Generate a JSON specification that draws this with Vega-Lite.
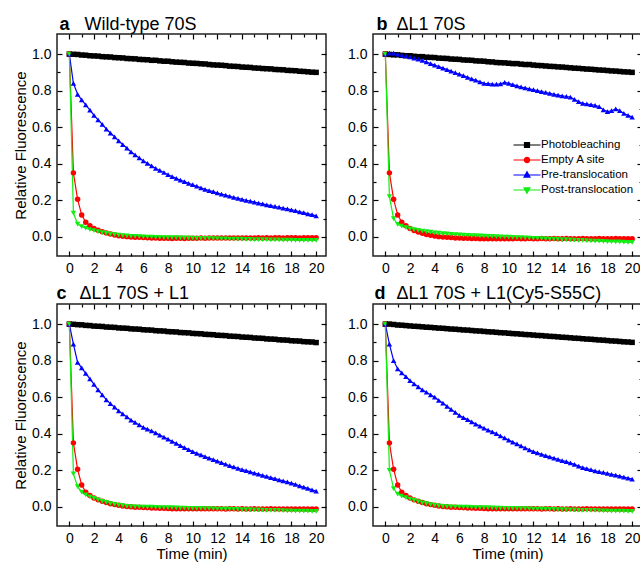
{
"$schema":"https://vega.github.io/schema/vega-lite/v6.json",
"padding":{"left":12,"top":14,"right":0,"bottom":0},
"background":"white",
"config":{
 "font":"Liberation Sans",
 "view":{"stroke":"#222","strokeWidth":1.5},
 "axis":{"domain":false,"grid":false,"tickColor":"#000","tickWidth":1.2,"labelColor":"#000","labelFont":"Liberation Sans","labelFontSize":14,"titleFont":"Liberation Sans","titleFontSize":15,"titleColor":"#000","titleFontWeight":"normal"}
},
"data":{"values":[
{"p":"a","t":0,"P":1,"E":1,"R":1,"O":1},
{"p":"a","t":0.33,"P":0.999,"E":0.35,"R":0.84,"O":0.13},
{"p":"a","t":0.67,"P":0.998,"E":0.205,"R":0.78,"O":0.07},
{"p":"a","t":1,"P":0.995,"E":0.12,"R":0.75,"O":0.056},
{"p":"a","t":1.33,"P":0.994,"E":0.08,"R":0.722,"O":0.047},
{"p":"a","t":1.67,"P":0.991,"E":0.06,"R":0.693,"O":0.04},
{"p":"a","t":2,"P":0.99,"E":0.046,"R":0.665,"O":0.034},
{"p":"a","t":2.33,"P":0.989,"E":0.036,"R":0.64,"O":0.028},
{"p":"a","t":2.67,"P":0.986,"E":0.028,"R":0.615,"O":0.023},
{"p":"a","t":3,"P":0.985,"E":0.021,"R":0.59,"O":0.019},
{"p":"a","t":3.33,"P":0.984,"E":0.015,"R":0.568,"O":0.015},
{"p":"a","t":3.67,"P":0.981,"E":0.01,"R":0.547,"O":0.012},
{"p":"a","t":4,"P":0.98,"E":0.006,"R":0.525,"O":0.009},
{"p":"a","t":4.33,"P":0.979,"E":0.003,"R":0.505,"O":0.007},
{"p":"a","t":4.67,"P":0.976,"E":0.001,"R":0.485,"O":0.005},
{"p":"a","t":5,"P":0.975,"E":-0.001,"R":0.465,"O":0.003},
{"p":"a","t":5.33,"P":0.974,"E":-0.002,"R":0.448,"O":0.002},
{"p":"a","t":5.67,"P":0.971,"E":-0.003,"R":0.432,"O":0.001},
{"p":"a","t":6,"P":0.97,"E":-0.004,"R":0.415,"O":0},
{"p":"a","t":6.33,"P":0.969,"E":-0.005,"R":0.402,"O":-0.001},
{"p":"a","t":6.67,"P":0.966,"E":-0.006,"R":0.388,"O":-0.002},
{"p":"a","t":7,"P":0.966,"E":-0.007,"R":0.375,"O":-0.003},
{"p":"a","t":7.33,"P":0.963,"E":-0.008,"R":0.363,"O":-0.003},
{"p":"a","t":7.67,"P":0.961,"E":-0.008,"R":0.352,"O":-0.004},
{"p":"a","t":8,"P":0.961,"E":-0.008,"R":0.34,"O":-0.004},
{"p":"a","t":8.33,"P":0.958,"E":-0.009,"R":0.33,"O":-0.005},
{"p":"a","t":8.67,"P":0.956,"E":-0.008,"R":0.32,"O":-0.005},
{"p":"a","t":9,"P":0.955,"E":-0.008,"R":0.31,"O":-0.006},
{"p":"a","t":9.33,"P":0.954,"E":-0.009,"R":0.302,"O":-0.006},
{"p":"a","t":9.67,"P":0.951,"E":-0.008,"R":0.293,"O":-0.007},
{"p":"a","t":10,"P":0.95,"E":-0.008,"R":0.285,"O":-0.007},
{"p":"a","t":10.33,"P":0.949,"E":-0.008,"R":0.277,"O":-0.008},
{"p":"a","t":10.67,"P":0.947,"E":-0.007,"R":0.268,"O":-0.008},
{"p":"a","t":11,"P":0.946,"E":-0.008,"R":0.26,"O":-0.009},
{"p":"a","t":11.33,"P":0.943,"E":-0.007,"R":0.253,"O":-0.009},
{"p":"a","t":11.67,"P":0.941,"E":-0.007,"R":0.247,"O":-0.01},
{"p":"a","t":12,"P":0.94,"E":-0.007,"R":0.24,"O":-0.01},
{"p":"a","t":12.33,"P":0.939,"E":-0.007,"R":0.234,"O":-0.011},
{"p":"a","t":12.67,"P":0.937,"E":-0.006,"R":0.228,"O":-0.011},
{"p":"a","t":13,"P":0.934,"E":-0.007,"R":0.222,"O":-0.012},
{"p":"a","t":13.33,"P":0.933,"E":-0.006,"R":0.216,"O":-0.012},
{"p":"a","t":13.67,"P":0.932,"E":-0.006,"R":0.211,"O":-0.013},
{"p":"a","t":14,"P":0.929,"E":-0.006,"R":0.205,"O":-0.013},
{"p":"a","t":14.33,"P":0.928,"E":-0.007,"R":0.2,"O":-0.014},
{"p":"a","t":14.67,"P":0.927,"E":-0.006,"R":0.195,"O":-0.014},
{"p":"a","t":15,"P":0.924,"E":-0.006,"R":0.19,"O":-0.015},
{"p":"a","t":15.33,"P":0.923,"E":-0.005,"R":0.185,"O":-0.015},
{"p":"a","t":15.67,"P":0.921,"E":-0.006,"R":0.18,"O":-0.016},
{"p":"a","t":16,"P":0.92,"E":-0.005,"R":0.175,"O":-0.016},
{"p":"a","t":16.33,"P":0.919,"E":-0.006,"R":0.171,"O":-0.017},
{"p":"a","t":16.67,"P":0.916,"E":-0.005,"R":0.166,"O":-0.017},
{"p":"a","t":17,"P":0.915,"E":-0.005,"R":0.162,"O":-0.017},
{"p":"a","t":17.33,"P":0.914,"E":-0.006,"R":0.157,"O":-0.018},
{"p":"a","t":17.67,"P":0.911,"E":-0.005,"R":0.153,"O":-0.018},
{"p":"a","t":18,"P":0.91,"E":-0.005,"R":0.148,"O":-0.018},
{"p":"a","t":18.33,"P":0.909,"E":-0.005,"R":0.143,"O":-0.019},
{"p":"a","t":18.67,"P":0.906,"E":-0.006,"R":0.137,"O":-0.019},
{"p":"a","t":19,"P":0.905,"E":-0.005,"R":0.132,"O":-0.019},
{"p":"a","t":19.33,"P":0.903,"E":-0.005,"R":0.126,"O":-0.02},
{"p":"a","t":19.67,"P":0.901,"E":-0.005,"R":0.121,"O":-0.02},
{"p":"a","t":20,"P":0.9,"E":-0.005,"R":0.115,"O":-0.02},
{"p":"b","t":0,"P":1,"E":1,"R":1,"O":1},
{"p":"b","t":0.33,"P":0.998,"E":0.35,"R":1.005,"O":0.22},
{"p":"b","t":0.67,"P":0.996,"E":0.205,"R":1.005,"O":0.1},
{"p":"b","t":1,"P":0.996,"E":0.12,"R":1,"O":0.068},
{"p":"b","t":1.33,"P":0.993,"E":0.08,"R":0.995,"O":0.058},
{"p":"b","t":1.67,"P":0.991,"E":0.06,"R":0.99,"O":0.05},
{"p":"b","t":2,"P":0.991,"E":0.045,"R":0.985,"O":0.044},
{"p":"b","t":2.33,"P":0.988,"E":0.035,"R":0.978,"O":0.039},
{"p":"b","t":2.67,"P":0.986,"E":0.026,"R":0.972,"O":0.035},
{"p":"b","t":3,"P":0.986,"E":0.019,"R":0.965,"O":0.031},
{"p":"b","t":3.33,"P":0.983,"E":0.013,"R":0.957,"O":0.028},
{"p":"b","t":3.67,"P":0.982,"E":0.008,"R":0.948,"O":0.025},
{"p":"b","t":4,"P":0.981,"E":0.004,"R":0.94,"O":0.022},
{"p":"b","t":4.33,"P":0.978,"E":0.001,"R":0.932,"O":0.02},
{"p":"b","t":4.67,"P":0.977,"E":-0.001,"R":0.923,"O":0.018},
{"p":"b","t":5,"P":0.976,"E":-0.003,"R":0.915,"O":0.016},
{"p":"b","t":5.33,"P":0.973,"E":-0.004,"R":0.907,"O":0.014},
{"p":"b","t":5.67,"P":0.972,"E":-0.006,"R":0.898,"O":0.012},
{"p":"b","t":6,"P":0.971,"E":-0.007,"R":0.89,"O":0.01},
{"p":"b","t":6.33,"P":0.968,"E":-0.008,"R":0.882,"O":0.009},
{"p":"b","t":6.67,"P":0.967,"E":-0.008,"R":0.873,"O":0.008},
{"p":"b","t":7,"P":0.966,"E":-0.009,"R":0.865,"O":0.007},
{"p":"b","t":7.33,"P":0.963,"E":-0.009,"R":0.857,"O":0.006},
{"p":"b","t":7.67,"P":0.962,"E":-0.01,"R":0.848,"O":0.005},
{"p":"b","t":8,"P":0.961,"E":-0.01,"R":0.84,"O":0.004},
{"p":"b","t":8.33,"P":0.958,"E":-0.01,"R":0.838,"O":0.003},
{"p":"b","t":8.67,"P":0.957,"E":-0.01,"R":0.836,"O":0.002},
{"p":"b","t":9,"P":0.954,"E":-0.01,"R":0.835,"O":0.001},
{"p":"b","t":9.33,"P":0.953,"E":-0.01,"R":0.837,"O":0},
{"p":"b","t":9.67,"P":0.952,"E":-0.01,"R":0.845,"O":-0.001},
{"p":"b","t":10,"P":0.95,"E":-0.01,"R":0.84,"O":-0.002},
{"p":"b","t":10.33,"P":0.948,"E":-0.01,"R":0.833,"O":-0.003},
{"p":"b","t":10.67,"P":0.948,"E":-0.009,"R":0.826,"O":-0.004},
{"p":"b","t":11,"P":0.945,"E":-0.01,"R":0.82,"O":-0.005},
{"p":"b","t":11.33,"P":0.943,"E":-0.01,"R":0.815,"O":-0.006},
{"p":"b","t":11.67,"P":0.943,"E":-0.009,"R":0.81,"O":-0.007},
{"p":"b","t":12,"P":0.94,"E":-0.01,"R":0.805,"O":-0.008},
{"p":"b","t":12.33,"P":0.938,"E":-0.01,"R":0.8,"O":-0.009},
{"p":"b","t":12.67,"P":0.937,"E":-0.009,"R":0.795,"O":-0.01},
{"p":"b","t":13,"P":0.935,"E":-0.01,"R":0.79,"O":-0.011},
{"p":"b","t":13.33,"P":0.933,"E":-0.01,"R":0.785,"O":-0.012},
{"p":"b","t":13.67,"P":0.932,"E":-0.009,"R":0.78,"O":-0.013},
{"p":"b","t":14,"P":0.93,"E":-0.01,"R":0.775,"O":-0.014},
{"p":"b","t":14.33,"P":0.929,"E":-0.01,"R":0.772,"O":-0.015},
{"p":"b","t":14.67,"P":0.927,"E":-0.009,"R":0.768,"O":-0.016},
{"p":"b","t":15,"P":0.925,"E":-0.01,"R":0.765,"O":-0.017},
{"p":"b","t":15.33,"P":0.923,"E":-0.01,"R":0.752,"O":-0.018},
{"p":"b","t":15.67,"P":0.922,"E":-0.01,"R":0.74,"O":-0.019},
{"p":"b","t":16,"P":0.92,"E":-0.009,"R":0.73,"O":-0.02},
{"p":"b","t":16.33,"P":0.918,"E":-0.01,"R":0.727,"O":-0.021},
{"p":"b","t":16.67,"P":0.917,"E":-0.01,"R":0.723,"O":-0.022},
{"p":"b","t":17,"P":0.915,"E":-0.01,"R":0.72,"O":-0.023},
{"p":"b","t":17.33,"P":0.913,"E":-0.009,"R":0.712,"O":-0.024},
{"p":"b","t":17.67,"P":0.912,"E":-0.01,"R":0.695,"O":-0.025},
{"p":"b","t":18,"P":0.91,"E":-0.01,"R":0.685,"O":-0.026},
{"p":"b","t":18.33,"P":0.908,"E":-0.01,"R":0.69,"O":-0.027},
{"p":"b","t":18.67,"P":0.907,"E":-0.009,"R":0.7,"O":-0.028},
{"p":"b","t":19,"P":0.905,"E":-0.01,"R":0.69,"O":-0.028},
{"p":"b","t":19.33,"P":0.903,"E":-0.01,"R":0.675,"O":-0.029},
{"p":"b","t":19.67,"P":0.902,"E":-0.01,"R":0.665,"O":-0.03},
{"p":"b","t":20,"P":0.9,"E":-0.01,"R":0.655,"O":-0.03},
{"p":"c","t":0,"P":1,"E":1,"R":1,"O":1},
{"p":"c","t":0.33,"P":0.999,"E":0.35,"R":0.89,"O":0.18},
{"p":"c","t":0.67,"P":0.997,"E":0.205,"R":0.79,"O":0.11},
{"p":"c","t":1,"P":0.996,"E":0.12,"R":0.76,"O":0.08},
{"p":"c","t":1.33,"P":0.993,"E":0.08,"R":0.73,"O":0.065},
{"p":"c","t":1.67,"P":0.992,"E":0.062,"R":0.7,"O":0.055},
{"p":"c","t":2,"P":0.989,"E":0.048,"R":0.67,"O":0.046},
{"p":"c","t":2.33,"P":0.988,"E":0.038,"R":0.64,"O":0.038},
{"p":"c","t":2.67,"P":0.987,"E":0.03,"R":0.612,"O":0.03},
{"p":"c","t":3,"P":0.984,"E":0.023,"R":0.585,"O":0.024},
{"p":"c","t":3.33,"P":0.983,"E":0.017,"R":0.565,"O":0.018},
{"p":"c","t":3.67,"P":0.982,"E":0.012,"R":0.545,"O":0.013},
{"p":"c","t":4,"P":0.979,"E":0.008,"R":0.525,"O":0.009},
{"p":"c","t":4.33,"P":0.978,"E":0.005,"R":0.508,"O":0.006},
{"p":"c","t":4.67,"P":0.977,"E":0.002,"R":0.492,"O":0.003},
{"p":"c","t":5,"P":0.974,"E":0,"R":0.475,"O":0.001},
{"p":"c","t":5.33,"P":0.973,"E":-0.002,"R":0.462,"O":0},
{"p":"c","t":5.67,"P":0.972,"E":-0.003,"R":0.448,"O":-0.001},
{"p":"c","t":6,"P":0.969,"E":-0.004,"R":0.435,"O":-0.001},
{"p":"c","t":6.33,"P":0.968,"E":-0.005,"R":0.425,"O":-0.002},
{"p":"c","t":6.67,"P":0.967,"E":-0.006,"R":0.415,"O":-0.002},
{"p":"c","t":7,"P":0.964,"E":-0.007,"R":0.405,"O":-0.003},
{"p":"c","t":7.33,"P":0.963,"E":-0.008,"R":0.393,"O":-0.004},
{"p":"c","t":7.67,"P":0.962,"E":-0.008,"R":0.382,"O":-0.004},
{"p":"c","t":8,"P":0.959,"E":-0.009,"R":0.37,"O":-0.005},
{"p":"c","t":8.33,"P":0.958,"E":-0.01,"R":0.358,"O":-0.005},
{"p":"c","t":8.67,"P":0.957,"E":-0.01,"R":0.347,"O":-0.006},
{"p":"c","t":9,"P":0.954,"E":-0.01,"R":0.335,"O":-0.007},
{"p":"c","t":9.33,"P":0.953,"E":-0.01,"R":0.324,"O":-0.007},
{"p":"c","t":9.67,"P":0.952,"E":-0.01,"R":0.313,"O":-0.008},
{"p":"c","t":10,"P":0.949,"E":-0.01,"R":0.302,"O":-0.008},
{"p":"c","t":10.33,"P":0.948,"E":-0.011,"R":0.293,"O":-0.009},
{"p":"c","t":10.67,"P":0.947,"E":-0.01,"R":0.284,"O":-0.009},
{"p":"c","t":11,"P":0.944,"E":-0.011,"R":0.275,"O":-0.01},
{"p":"c","t":11.33,"P":0.943,"E":-0.011,"R":0.267,"O":-0.01},
{"p":"c","t":11.67,"P":0.942,"E":-0.011,"R":0.258,"O":-0.011},
{"p":"c","t":12,"P":0.939,"E":-0.011,"R":0.25,"O":-0.012},
{"p":"c","t":12.33,"P":0.938,"E":-0.011,"R":0.242,"O":-0.012},
{"p":"c","t":12.67,"P":0.937,"E":-0.012,"R":0.233,"O":-0.013},
{"p":"c","t":13,"P":0.934,"E":-0.011,"R":0.225,"O":-0.013},
{"p":"c","t":13.33,"P":0.933,"E":-0.011,"R":0.218,"O":-0.014},
{"p":"c","t":13.67,"P":0.932,"E":-0.012,"R":0.211,"O":-0.014},
{"p":"c","t":14,"P":0.929,"E":-0.011,"R":0.204,"O":-0.015},
{"p":"c","t":14.33,"P":0.928,"E":-0.012,"R":0.198,"O":-0.016},
{"p":"c","t":14.67,"P":0.927,"E":-0.012,"R":0.191,"O":-0.016},
{"p":"c","t":15,"P":0.924,"E":-0.011,"R":0.185,"O":-0.017},
{"p":"c","t":15.33,"P":0.923,"E":-0.012,"R":0.179,"O":-0.017},
{"p":"c","t":15.67,"P":0.922,"E":-0.012,"R":0.172,"O":-0.018},
{"p":"c","t":16,"P":0.919,"E":-0.012,"R":0.166,"O":-0.019},
{"p":"c","t":16.33,"P":0.918,"E":-0.011,"R":0.16,"O":-0.019},
{"p":"c","t":16.67,"P":0.917,"E":-0.012,"R":0.154,"O":-0.02},
{"p":"c","t":17,"P":0.914,"E":-0.012,"R":0.148,"O":-0.02},
{"p":"c","t":17.33,"P":0.913,"E":-0.012,"R":0.142,"O":-0.021},
{"p":"c","t":17.67,"P":0.912,"E":-0.012,"R":0.136,"O":-0.022},
{"p":"c","t":18,"P":0.909,"E":-0.012,"R":0.13,"O":-0.022},
{"p":"c","t":18.33,"P":0.908,"E":-0.012,"R":0.123,"O":-0.023},
{"p":"c","t":18.67,"P":0.907,"E":-0.012,"R":0.115,"O":-0.023},
{"p":"c","t":19,"P":0.904,"E":-0.012,"R":0.108,"O":-0.024},
{"p":"c","t":19.33,"P":0.903,"E":-0.012,"R":0.101,"O":-0.024},
{"p":"c","t":19.67,"P":0.902,"E":-0.012,"R":0.093,"O":-0.025},
{"p":"c","t":20,"P":0.899,"E":-0.012,"R":0.086,"O":-0.025},
{"p":"d","t":0,"P":1,"E":1,"R":1,"O":1},
{"p":"d","t":0.33,"P":1,"E":0.35,"R":0.89,"O":0.2},
{"p":"d","t":0.67,"P":0.998,"E":0.205,"R":0.8,"O":0.1},
{"p":"d","t":1,"P":0.995,"E":0.12,"R":0.755,"O":0.07},
{"p":"d","t":1.33,"P":0.994,"E":0.08,"R":0.733,"O":0.058},
{"p":"d","t":1.67,"P":0.992,"E":0.062,"R":0.712,"O":0.05},
{"p":"d","t":2,"P":0.99,"E":0.048,"R":0.69,"O":0.042},
{"p":"d","t":2.33,"P":0.988,"E":0.038,"R":0.673,"O":0.035},
{"p":"d","t":2.67,"P":0.987,"E":0.03,"R":0.657,"O":0.028},
{"p":"d","t":3,"P":0.985,"E":0.023,"R":0.64,"O":0.022},
{"p":"d","t":3.33,"P":0.983,"E":0.017,"R":0.627,"O":0.017},
{"p":"d","t":3.67,"P":0.982,"E":0.012,"R":0.613,"O":0.012},
{"p":"d","t":4,"P":0.98,"E":0.008,"R":0.6,"O":0.008},
{"p":"d","t":4.33,"P":0.978,"E":0.005,"R":0.583,"O":0.005},
{"p":"d","t":4.67,"P":0.977,"E":0.002,"R":0.567,"O":0.003},
{"p":"d","t":5,"P":0.975,"E":0,"R":0.55,"O":0.001},
{"p":"d","t":5.33,"P":0.973,"E":-0.002,"R":0.533,"O":0},
{"p":"d","t":5.67,"P":0.972,"E":-0.003,"R":0.517,"O":-0.001},
{"p":"d","t":6,"P":0.97,"E":-0.004,"R":0.5,"O":-0.001},
{"p":"d","t":6.33,"P":0.968,"E":-0.005,"R":0.488,"O":-0.002},
{"p":"d","t":6.67,"P":0.967,"E":-0.006,"R":0.477,"O":-0.002},
{"p":"d","t":7,"P":0.965,"E":-0.007,"R":0.465,"O":-0.003},
{"p":"d","t":7.33,"P":0.963,"E":-0.008,"R":0.453,"O":-0.004},
{"p":"d","t":7.67,"P":0.962,"E":-0.008,"R":0.442,"O":-0.004},
{"p":"d","t":8,"P":0.96,"E":-0.009,"R":0.43,"O":-0.005},
{"p":"d","t":8.33,"P":0.958,"E":-0.01,"R":0.42,"O":-0.005},
{"p":"d","t":8.67,"P":0.957,"E":-0.01,"R":0.41,"O":-0.006},
{"p":"d","t":9,"P":0.955,"E":-0.01,"R":0.4,"O":-0.007},
{"p":"d","t":9.33,"P":0.953,"E":-0.01,"R":0.388,"O":-0.007},
{"p":"d","t":9.67,"P":0.952,"E":-0.01,"R":0.377,"O":-0.008},
{"p":"d","t":10,"P":0.95,"E":-0.01,"R":0.365,"O":-0.008},
{"p":"d","t":10.33,"P":0.948,"E":-0.011,"R":0.354,"O":-0.009},
{"p":"d","t":10.67,"P":0.947,"E":-0.01,"R":0.344,"O":-0.009},
{"p":"d","t":11,"P":0.945,"E":-0.011,"R":0.333,"O":-0.01},
{"p":"d","t":11.33,"P":0.943,"E":-0.011,"R":0.323,"O":-0.01},
{"p":"d","t":11.67,"P":0.942,"E":-0.011,"R":0.312,"O":-0.011},
{"p":"d","t":12,"P":0.94,"E":-0.011,"R":0.302,"O":-0.012},
{"p":"d","t":12.33,"P":0.938,"E":-0.011,"R":0.295,"O":-0.012},
{"p":"d","t":12.67,"P":0.937,"E":-0.012,"R":0.287,"O":-0.013},
{"p":"d","t":13,"P":0.935,"E":-0.011,"R":0.28,"O":-0.013},
{"p":"d","t":13.33,"P":0.933,"E":-0.011,"R":0.273,"O":-0.014},
{"p":"d","t":13.67,"P":0.932,"E":-0.012,"R":0.267,"O":-0.014},
{"p":"d","t":14,"P":0.93,"E":-0.011,"R":0.26,"O":-0.015},
{"p":"d","t":14.33,"P":0.928,"E":-0.012,"R":0.253,"O":-0.016},
{"p":"d","t":14.67,"P":0.927,"E":-0.012,"R":0.247,"O":-0.016},
{"p":"d","t":15,"P":0.925,"E":-0.011,"R":0.24,"O":-0.017},
{"p":"d","t":15.33,"P":0.923,"E":-0.012,"R":0.232,"O":-0.017},
{"p":"d","t":15.67,"P":0.922,"E":-0.012,"R":0.223,"O":-0.018},
{"p":"d","t":16,"P":0.92,"E":-0.012,"R":0.215,"O":-0.019},
{"p":"d","t":16.33,"P":0.918,"E":-0.011,"R":0.209,"O":-0.019},
{"p":"d","t":16.67,"P":0.917,"E":-0.012,"R":0.203,"O":-0.02},
{"p":"d","t":17,"P":0.915,"E":-0.012,"R":0.197,"O":-0.02},
{"p":"d","t":17.33,"P":0.913,"E":-0.012,"R":0.192,"O":-0.021},
{"p":"d","t":17.67,"P":0.912,"E":-0.012,"R":0.188,"O":-0.022},
{"p":"d","t":18,"P":0.91,"E":-0.012,"R":0.183,"O":-0.022},
{"p":"d","t":18.33,"P":0.908,"E":-0.012,"R":0.178,"O":-0.023},
{"p":"d","t":18.67,"P":0.907,"E":-0.012,"R":0.173,"O":-0.023},
{"p":"d","t":19,"P":0.905,"E":-0.012,"R":0.168,"O":-0.024},
{"p":"d","t":19.33,"P":0.903,"E":-0.012,"R":0.163,"O":-0.024},
{"p":"d","t":19.67,"P":0.902,"E":-0.012,"R":0.157,"O":-0.025},
{"p":"d","t":20,"P":0.9,"E":-0.012,"R":0.152,"O":-0.025}
]},
"columns":2,
"bounds":"flush",
"spacing":{"row":48,"column":47},
"resolve":{"legend":{"color":"independent","shape":"independent","stroke":"independent"}},
"concat":[
{
 "width":269,"height":222,
 "transform":[{"filter":"datum.p=='a'"},{"fold":["P","E","R","O"],"as":["s","v"]}],
 "layer":[
  {"mark":{"type":"line","strokeWidth":1.2},
   "encoding":{
    "x":{"field":"t","type":"quantitative","scale":{"domain":[-1,20.8],"nice":false,"zero":false},"axis":{"orient":"bottom","values":[0,2,4,6,8,10,12,14,16,18,20],"tickSize":-5,"labelPadding":10,"title":null}},
    "y":{"field":"v","type":"quantitative","scale":{"domain":[-0.105,1.11],"nice":false,"zero":false},"axis":{"orient":"left","values":[0,0.2,0.4,0.6,0.8,1],"format":".1f","tickSize":-5,"labelPadding":11,"title":"Relative Fluorescence","titlePadding":3}},
    "stroke":{"field":"s","type":"nominal","sort":["P","E","R","O"],"scale":{"range":["#000000","#ff0000","#0000ff","#11ee11"]},"legend":null}
   }},
  {"mark":{"type":"point","filled":true,"size":30,"opacity":1},
   "encoding":{
    "x":{"field":"t","type":"quantitative","scale":{"domain":[-1,20.8],"nice":false,"zero":false},"axis":{"orient":"top","values":[0,2,4,6,8,10,12,14,16,18,20],"tickSize":-5,"labels":false,"title":"Wild-type 70S","titleX":27,"titleY":-5,"titleAlign":"left","titleBaseline":"alphabetic","titleFontSize":18}},
    "y":{"field":"v","type":"quantitative","scale":{"domain":[-0.105,1.11],"nice":false,"zero":false},"axis":{"orient":"right","values":[0,0.2,0.4,0.6,0.8,1],"tickSize":-5,"labels":false,"title":null}},
    "color":{"field":"s","type":"nominal","scale":{"domain":["P","E","R","O"],"range":["#000000","#ff0000","#0000ff","#11ee11"]},"legend":null},
    "shape":{"field":"s","type":"nominal","scale":{"domain":["P","E","R","O"],"range":["square","circle","triangle-up","triangle-down"]},"legend":null}
   }},
  {"mark":{"type":"point","opacity":0},
   "encoding":{
    "x":{"field":"t","type":"quantitative","scale":{"domain":[-1,20.8],"nice":false,"zero":false},"axis":{"orient":"bottom","values":[1,3,5,7,9,11,13,15,17,19],"tickSize":-3,"labels":false,"title":null}},
    "y":{"field":"v","type":"quantitative","scale":{"domain":[-0.105,1.11],"nice":false,"zero":false},"axis":{"orient":"left","values":[0.1,0.3,0.5,0.7,0.9],"tickSize":-3,"labels":false,"title":null}}
   }},
  {"mark":{"type":"point","opacity":0},
   "encoding":{
    "x":{"field":"t","type":"quantitative","scale":{"domain":[-1,20.8],"nice":false,"zero":false},"axis":{"orient":"top","values":[1,3,5,7,9,11,13,15,17,19],"tickSize":-3,"labels":false,"title":"a","titleX":2,"titleY":-5,"titleAlign":"left","titleBaseline":"alphabetic","titleFontSize":18,"titleFontWeight":"bold"}},
    "y":{"field":"v","type":"quantitative","scale":{"domain":[-0.105,1.11],"nice":false,"zero":false},"axis":{"orient":"right","values":[0.1,0.3,0.5,0.7,0.9],"tickSize":-3,"labels":false,"title":null}}
   }}
 ],
 "resolve":{"axis":{"x":"independent","y":"independent"}}
},
{
 "width":269,"height":222,
 "transform":[{"filter":"datum.p=='b'"},{"fold":["P","E","R","O"],"as":["s","v"]}],
 "layer":[
  {"mark":{"type":"line","strokeWidth":1.2},
   "encoding":{
    "x":{"field":"t","type":"quantitative","scale":{"domain":[-1,20.8],"nice":false,"zero":false},"axis":{"orient":"bottom","values":[0,2,4,6,8,10,12,14,16,18,20],"tickSize":-5,"labelPadding":10,"title":null}},
    "y":{"field":"v","type":"quantitative","scale":{"domain":[-0.105,1.11],"nice":false,"zero":false},"axis":{"orient":"left","values":[0,0.2,0.4,0.6,0.8,1],"format":".1f","tickSize":-5,"labelPadding":11,"title":null}},
    "stroke":{"field":"s","type":"nominal","sort":["P","E","R","O"],"scale":{"range":["#000000","#ff0000","#0000ff","#11ee11"]},"legend":{"orient":"none","legendX":146,"legendY":103,"title":null,"labelFontSize":11.5,"labelColor":"#000","symbolSize":196,"symbolStrokeWidth":1.2,"rowPadding":1,"labelOffset":6,"labelExpr":"datum.value=='P'?'Photobleaching':datum.value=='E'?'Empty A site':datum.value=='R'?'Pre-translocation':'Post-translocation'","encoding":{"symbols":{"shape":{"value":{"expr":"datum.value=='P'?'M-1.93,0H1.93M-0.36,-0.36H0.36V0.36H-0.36Z':datum.value=='E'?'M-1.93,0H1.93M0.38,0A0.38,0.38 0 1,1 -0.38,0A0.38,0.38 0 1,1 0.38,0Z':datum.value=='R'?'M-1.93,0H1.93M0,-0.45L0.42,0.3L-0.42,0.3Z':'M-1.93,0H1.93M0,0.45L0.42,-0.3L-0.42,-0.3Z'"}},"fill":{"value":{"expr":"datum.value=='P'?'#000000':datum.value=='E'?'#ff0000':datum.value=='R'?'#0000ff':'#11ee11'"}},"strokeWidth":{"value":1.2}}}}}
   }},
  {"mark":{"type":"point","filled":true,"size":30,"opacity":1},
   "encoding":{
    "x":{"field":"t","type":"quantitative","scale":{"domain":[-1,20.8],"nice":false,"zero":false},"axis":{"orient":"top","values":[0,2,4,6,8,10,12,14,16,18,20],"tickSize":-5,"labels":false,"title":"ΔL1 70S","titleX":23,"titleY":-5,"titleAlign":"left","titleBaseline":"alphabetic","titleFontSize":18}},
    "y":{"field":"v","type":"quantitative","scale":{"domain":[-0.105,1.11],"nice":false,"zero":false},"axis":{"orient":"right","values":[0,0.2,0.4,0.6,0.8,1],"tickSize":-5,"labels":false,"title":null}},
    "color":{"field":"s","type":"nominal","scale":{"domain":["P","E","R","O"],"range":["#000000","#ff0000","#0000ff","#11ee11"]},"legend":null},
    "shape":{"field":"s","type":"nominal","scale":{"domain":["P","E","R","O"],"range":["square","circle","triangle-up","triangle-down"]},"legend":null}
   }},
  {"mark":{"type":"point","opacity":0},
   "encoding":{
    "x":{"field":"t","type":"quantitative","scale":{"domain":[-1,20.8],"nice":false,"zero":false},"axis":{"orient":"bottom","values":[1,3,5,7,9,11,13,15,17,19],"tickSize":-3,"labels":false,"title":null}},
    "y":{"field":"v","type":"quantitative","scale":{"domain":[-0.105,1.11],"nice":false,"zero":false},"axis":{"orient":"left","values":[0.1,0.3,0.5,0.7,0.9],"tickSize":-3,"labels":false,"title":null}}
   }},
  {"mark":{"type":"point","opacity":0},
   "encoding":{
    "x":{"field":"t","type":"quantitative","scale":{"domain":[-1,20.8],"nice":false,"zero":false},"axis":{"orient":"top","values":[1,3,5,7,9,11,13,15,17,19],"tickSize":-3,"labels":false,"title":"b","titleX":3,"titleY":-5,"titleAlign":"left","titleBaseline":"alphabetic","titleFontSize":18,"titleFontWeight":"bold"}},
    "y":{"field":"v","type":"quantitative","scale":{"domain":[-0.105,1.11],"nice":false,"zero":false},"axis":{"orient":"right","values":[0.1,0.3,0.5,0.7,0.9],"tickSize":-3,"labels":false,"title":null}}
   }}
 ],
 "resolve":{"axis":{"x":"independent","y":"independent"}}
},
{
 "width":269,"height":222,
 "transform":[{"filter":"datum.p=='c'"},{"fold":["P","E","R","O"],"as":["s","v"]}],
 "layer":[
  {"mark":{"type":"line","strokeWidth":1.2},
   "encoding":{
    "x":{"field":"t","type":"quantitative","scale":{"domain":[-1,20.8],"nice":false,"zero":false},"axis":{"orient":"bottom","values":[0,2,4,6,8,10,12,14,16,18,20],"tickSize":-5,"labelPadding":10,"title":"Time (min)","titlePadding":1}},
    "y":{"field":"v","type":"quantitative","scale":{"domain":[-0.105,1.11],"nice":false,"zero":false},"axis":{"orient":"left","values":[0,0.2,0.4,0.6,0.8,1],"format":".1f","tickSize":-5,"labelPadding":11,"title":"Relative Fluorescence","titlePadding":3}},
    "stroke":{"field":"s","type":"nominal","sort":["P","E","R","O"],"scale":{"range":["#000000","#ff0000","#0000ff","#11ee11"]},"legend":null}
   }},
  {"mark":{"type":"point","filled":true,"size":30,"opacity":1},
   "encoding":{
    "x":{"field":"t","type":"quantitative","scale":{"domain":[-1,20.8],"nice":false,"zero":false},"axis":{"orient":"top","values":[0,2,4,6,8,10,12,14,16,18,20],"tickSize":-5,"labels":false,"title":"ΔL1 70S + L1","titleX":22,"titleY":-6,"titleAlign":"left","titleBaseline":"alphabetic","titleFontSize":18}},
    "y":{"field":"v","type":"quantitative","scale":{"domain":[-0.105,1.11],"nice":false,"zero":false},"axis":{"orient":"right","values":[0,0.2,0.4,0.6,0.8,1],"tickSize":-5,"labels":false,"title":null}},
    "color":{"field":"s","type":"nominal","scale":{"domain":["P","E","R","O"],"range":["#000000","#ff0000","#0000ff","#11ee11"]},"legend":null},
    "shape":{"field":"s","type":"nominal","scale":{"domain":["P","E","R","O"],"range":["square","circle","triangle-up","triangle-down"]},"legend":null}
   }},
  {"mark":{"type":"point","opacity":0},
   "encoding":{
    "x":{"field":"t","type":"quantitative","scale":{"domain":[-1,20.8],"nice":false,"zero":false},"axis":{"orient":"bottom","values":[1,3,5,7,9,11,13,15,17,19],"tickSize":-3,"labels":false,"title":null}},
    "y":{"field":"v","type":"quantitative","scale":{"domain":[-0.105,1.11],"nice":false,"zero":false},"axis":{"orient":"left","values":[0.1,0.3,0.5,0.7,0.9],"tickSize":-3,"labels":false,"title":null}}
   }},
  {"mark":{"type":"point","opacity":0},
   "encoding":{
    "x":{"field":"t","type":"quantitative","scale":{"domain":[-1,20.8],"nice":false,"zero":false},"axis":{"orient":"top","values":[1,3,5,7,9,11,13,15,17,19],"tickSize":-3,"labels":false,"title":"c","titleX":-1,"titleY":-6,"titleAlign":"left","titleBaseline":"alphabetic","titleFontSize":18,"titleFontWeight":"bold"}},
    "y":{"field":"v","type":"quantitative","scale":{"domain":[-0.105,1.11],"nice":false,"zero":false},"axis":{"orient":"right","values":[0.1,0.3,0.5,0.7,0.9],"tickSize":-3,"labels":false,"title":null}}
   }}
 ],
 "resolve":{"axis":{"x":"independent","y":"independent"}}
},
{
 "width":269,"height":222,
 "transform":[{"filter":"datum.p=='d'"},{"fold":["P","E","R","O"],"as":["s","v"]}],
 "layer":[
  {"mark":{"type":"line","strokeWidth":1.2},
   "encoding":{
    "x":{"field":"t","type":"quantitative","scale":{"domain":[-1,20.8],"nice":false,"zero":false},"axis":{"orient":"bottom","values":[0,2,4,6,8,10,12,14,16,18,20],"tickSize":-5,"labelPadding":10,"title":"Time (min)","titlePadding":1}},
    "y":{"field":"v","type":"quantitative","scale":{"domain":[-0.105,1.11],"nice":false,"zero":false},"axis":{"orient":"left","values":[0,0.2,0.4,0.6,0.8,1],"format":".1f","tickSize":-5,"labelPadding":11,"title":null}},
    "stroke":{"field":"s","type":"nominal","sort":["P","E","R","O"],"scale":{"range":["#000000","#ff0000","#0000ff","#11ee11"]},"legend":null}
   }},
  {"mark":{"type":"point","filled":true,"size":30,"opacity":1},
   "encoding":{
    "x":{"field":"t","type":"quantitative","scale":{"domain":[-1,20.8],"nice":false,"zero":false},"axis":{"orient":"top","values":[0,2,4,6,8,10,12,14,16,18,20],"tickSize":-5,"labels":false,"title":"ΔL1 70S + L1(Cy5-S55C)","titleX":23,"titleY":-6,"titleAlign":"left","titleBaseline":"alphabetic","titleFontSize":18}},
    "y":{"field":"v","type":"quantitative","scale":{"domain":[-0.105,1.11],"nice":false,"zero":false},"axis":{"orient":"right","values":[0,0.2,0.4,0.6,0.8,1],"tickSize":-5,"labels":false,"title":null}},
    "color":{"field":"s","type":"nominal","scale":{"domain":["P","E","R","O"],"range":["#000000","#ff0000","#0000ff","#11ee11"]},"legend":null},
    "shape":{"field":"s","type":"nominal","scale":{"domain":["P","E","R","O"],"range":["square","circle","triangle-up","triangle-down"]},"legend":null}
   }},
  {"mark":{"type":"point","opacity":0},
   "encoding":{
    "x":{"field":"t","type":"quantitative","scale":{"domain":[-1,20.8],"nice":false,"zero":false},"axis":{"orient":"bottom","values":[1,3,5,7,9,11,13,15,17,19],"tickSize":-3,"labels":false,"title":null}},
    "y":{"field":"v","type":"quantitative","scale":{"domain":[-0.105,1.11],"nice":false,"zero":false},"axis":{"orient":"left","values":[0.1,0.3,0.5,0.7,0.9],"tickSize":-3,"labels":false,"title":null}}
   }},
  {"mark":{"type":"point","opacity":0},
   "encoding":{
    "x":{"field":"t","type":"quantitative","scale":{"domain":[-1,20.8],"nice":false,"zero":false},"axis":{"orient":"top","values":[1,3,5,7,9,11,13,15,17,19],"tickSize":-3,"labels":false,"title":"d","titleX":1,"titleY":-6,"titleAlign":"left","titleBaseline":"alphabetic","titleFontSize":18,"titleFontWeight":"bold"}},
    "y":{"field":"v","type":"quantitative","scale":{"domain":[-0.105,1.11],"nice":false,"zero":false},"axis":{"orient":"right","values":[0.1,0.3,0.5,0.7,0.9],"tickSize":-3,"labels":false,"title":null}}
   }}
 ],
 "resolve":{"axis":{"x":"independent","y":"independent"}}
}
]
}
